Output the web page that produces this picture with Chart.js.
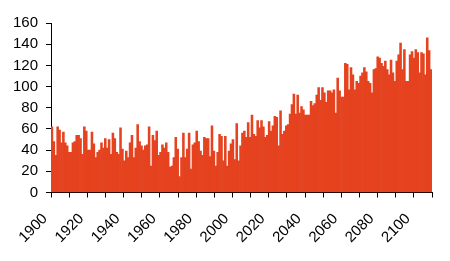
<!DOCTYPE html>
<html>
<head>
<meta charset="utf-8">
<script src="https://cdn.jsdelivr.net/npm/chart.js@4"></script>
<style>
  html, body { margin: 0; padding: 0; background: #fff; }
  #wrap { width: 450px; height: 261px; }
</style>
</head>
<body>
<div id="wrap"><canvas id="chart"></canvas></div>
<script>
const firstYear = 1900;
const tickYears = [1900, 1920, 1940, 1960, 1980, 2000, 2020, 2040, 2060, 2080, 2100];
const yTicks = [0, 20, 40, 60, 80, 100, 120, 140, 160];

// one value per year, 1900..2099
const annualValues = [
  62, 48, 35, 62, 59, 47, 57, 47, 44, 38,   // 1900s
  38, 47, 48, 54, 54, 51, 36, 62, 58, 40,   // 1910s
  40, 57, 46, 33, 38, 40, 47, 42, 51, 42,   // 1920s
  50, 36, 56, 51, 38, 36, 61, 41, 30, 39,   // 1930s
  33, 47, 54, 33, 42, 64, 48, 44, 40, 44,   // 1940s
  45, 62, 25, 54, 49, 58, 35, 38, 45, 42,   // 1950s
  47, 38, 24, 25, 33, 52, 41, 15, 33, 56,   // 1960s
  33, 41, 56, 22, 45, 47, 58, 48, 39, 35,   // 1970s
  52, 51, 51, 34, 63, 39, 25, 38, 55, 53,   // 1980s
  30, 53, 25, 39, 46, 50, 31, 65, 30, 44,   // 1990s
  56, 58, 52, 66, 52, 73, 55, 53, 68, 61,   // 2000s
  68, 62, 52, 54, 67, 58, 63, 72, 71, 44,   // 2010s
  77, 55, 58, 63, 64, 74, 83, 93, 74, 92,   // 2020s
  75, 81, 78, 73, 73, 73, 86, 82, 84, 92,   // 2030s
  99, 87, 99, 94, 85, 96, 96, 94, 97, 75,   // 2040s
  108, 96, 90, 90, 122, 121, 97, 118, 111, 97,   // 2050s
  105, 103, 110, 113, 118, 114, 105, 103, 94, 116,  // 2060s
  117, 128, 127, 122, 119, 124, 116, 111, 125, 113, // 2070s
  105, 124, 130, 141, 116, 135, 105, 105, 130, 133, // 2080s
  127, 135, 132, 113, 132, 131, 111, 146, 134, 116, // 2090s
];

const years = annualValues.map((_, i) => String(firstYear + i));

const barColor = "#e5421f";
const axisFont = { family: "Liberation Sans, Arial, sans-serif", size: 15 };

new Chart(document.querySelector("#chart"), {
  type: "bar",
  data: {
    labels: years,
    datasets: [{
      data: annualValues,
      backgroundColor: barColor,
      borderWidth: 0,
      barPercentage: 1,
      categoryPercentage: 1,
      xAxisID: "x",
    }],
  },
  options: {
    responsive: true,
    maintainAspectRatio: false,
    animation: false,
    events: [],
    layout: { padding: { top: 23, right: 18, left: 0, bottom: 0 } },
    plugins: { legend: { display: false }, tooltip: { enabled: false } },
    scales: {
      x: { type: "category", display: false, offset: true },
      x2: {
        type: "linear",
        position: "bottom",
        min: 1900,
        max: 2100,
        afterFit: (scale) => {
          scale.height = 68.5;
          scale.paddingLeft = 0;
          scale.paddingRight = 0;
        },
        ticks: {
          stepSize: 10,
          autoSkip: false,
          minRotation: 45,
          maxRotation: 45,
          color: "#000",
          font: axisFont,
          padding: 12.5,
          labelOffset: -15,
          callback: (v) => (tickYears.includes(v) ? String(v) : ""),
        },
        grid: { drawOnChartArea: false, color: "#000", tickLength: 5 },
        border: { color: "#000", width: 1 },
      },
      y: {
        min: 0,
        max: 160,
        afterFit: (scale) => { scale.width = 51; },
        afterBuildTicks: (scale) => { scale.ticks = yTicks.map((v) => ({ value: v })); },
        ticks: { color: "#000", font: axisFont, padding: 8 },
        grid: { drawOnChartArea: false, color: "#000", tickLength: 5 },
        border: { color: "#000", width: 1 },
      },
    },
  },
});
</script>
</body>
</html>
